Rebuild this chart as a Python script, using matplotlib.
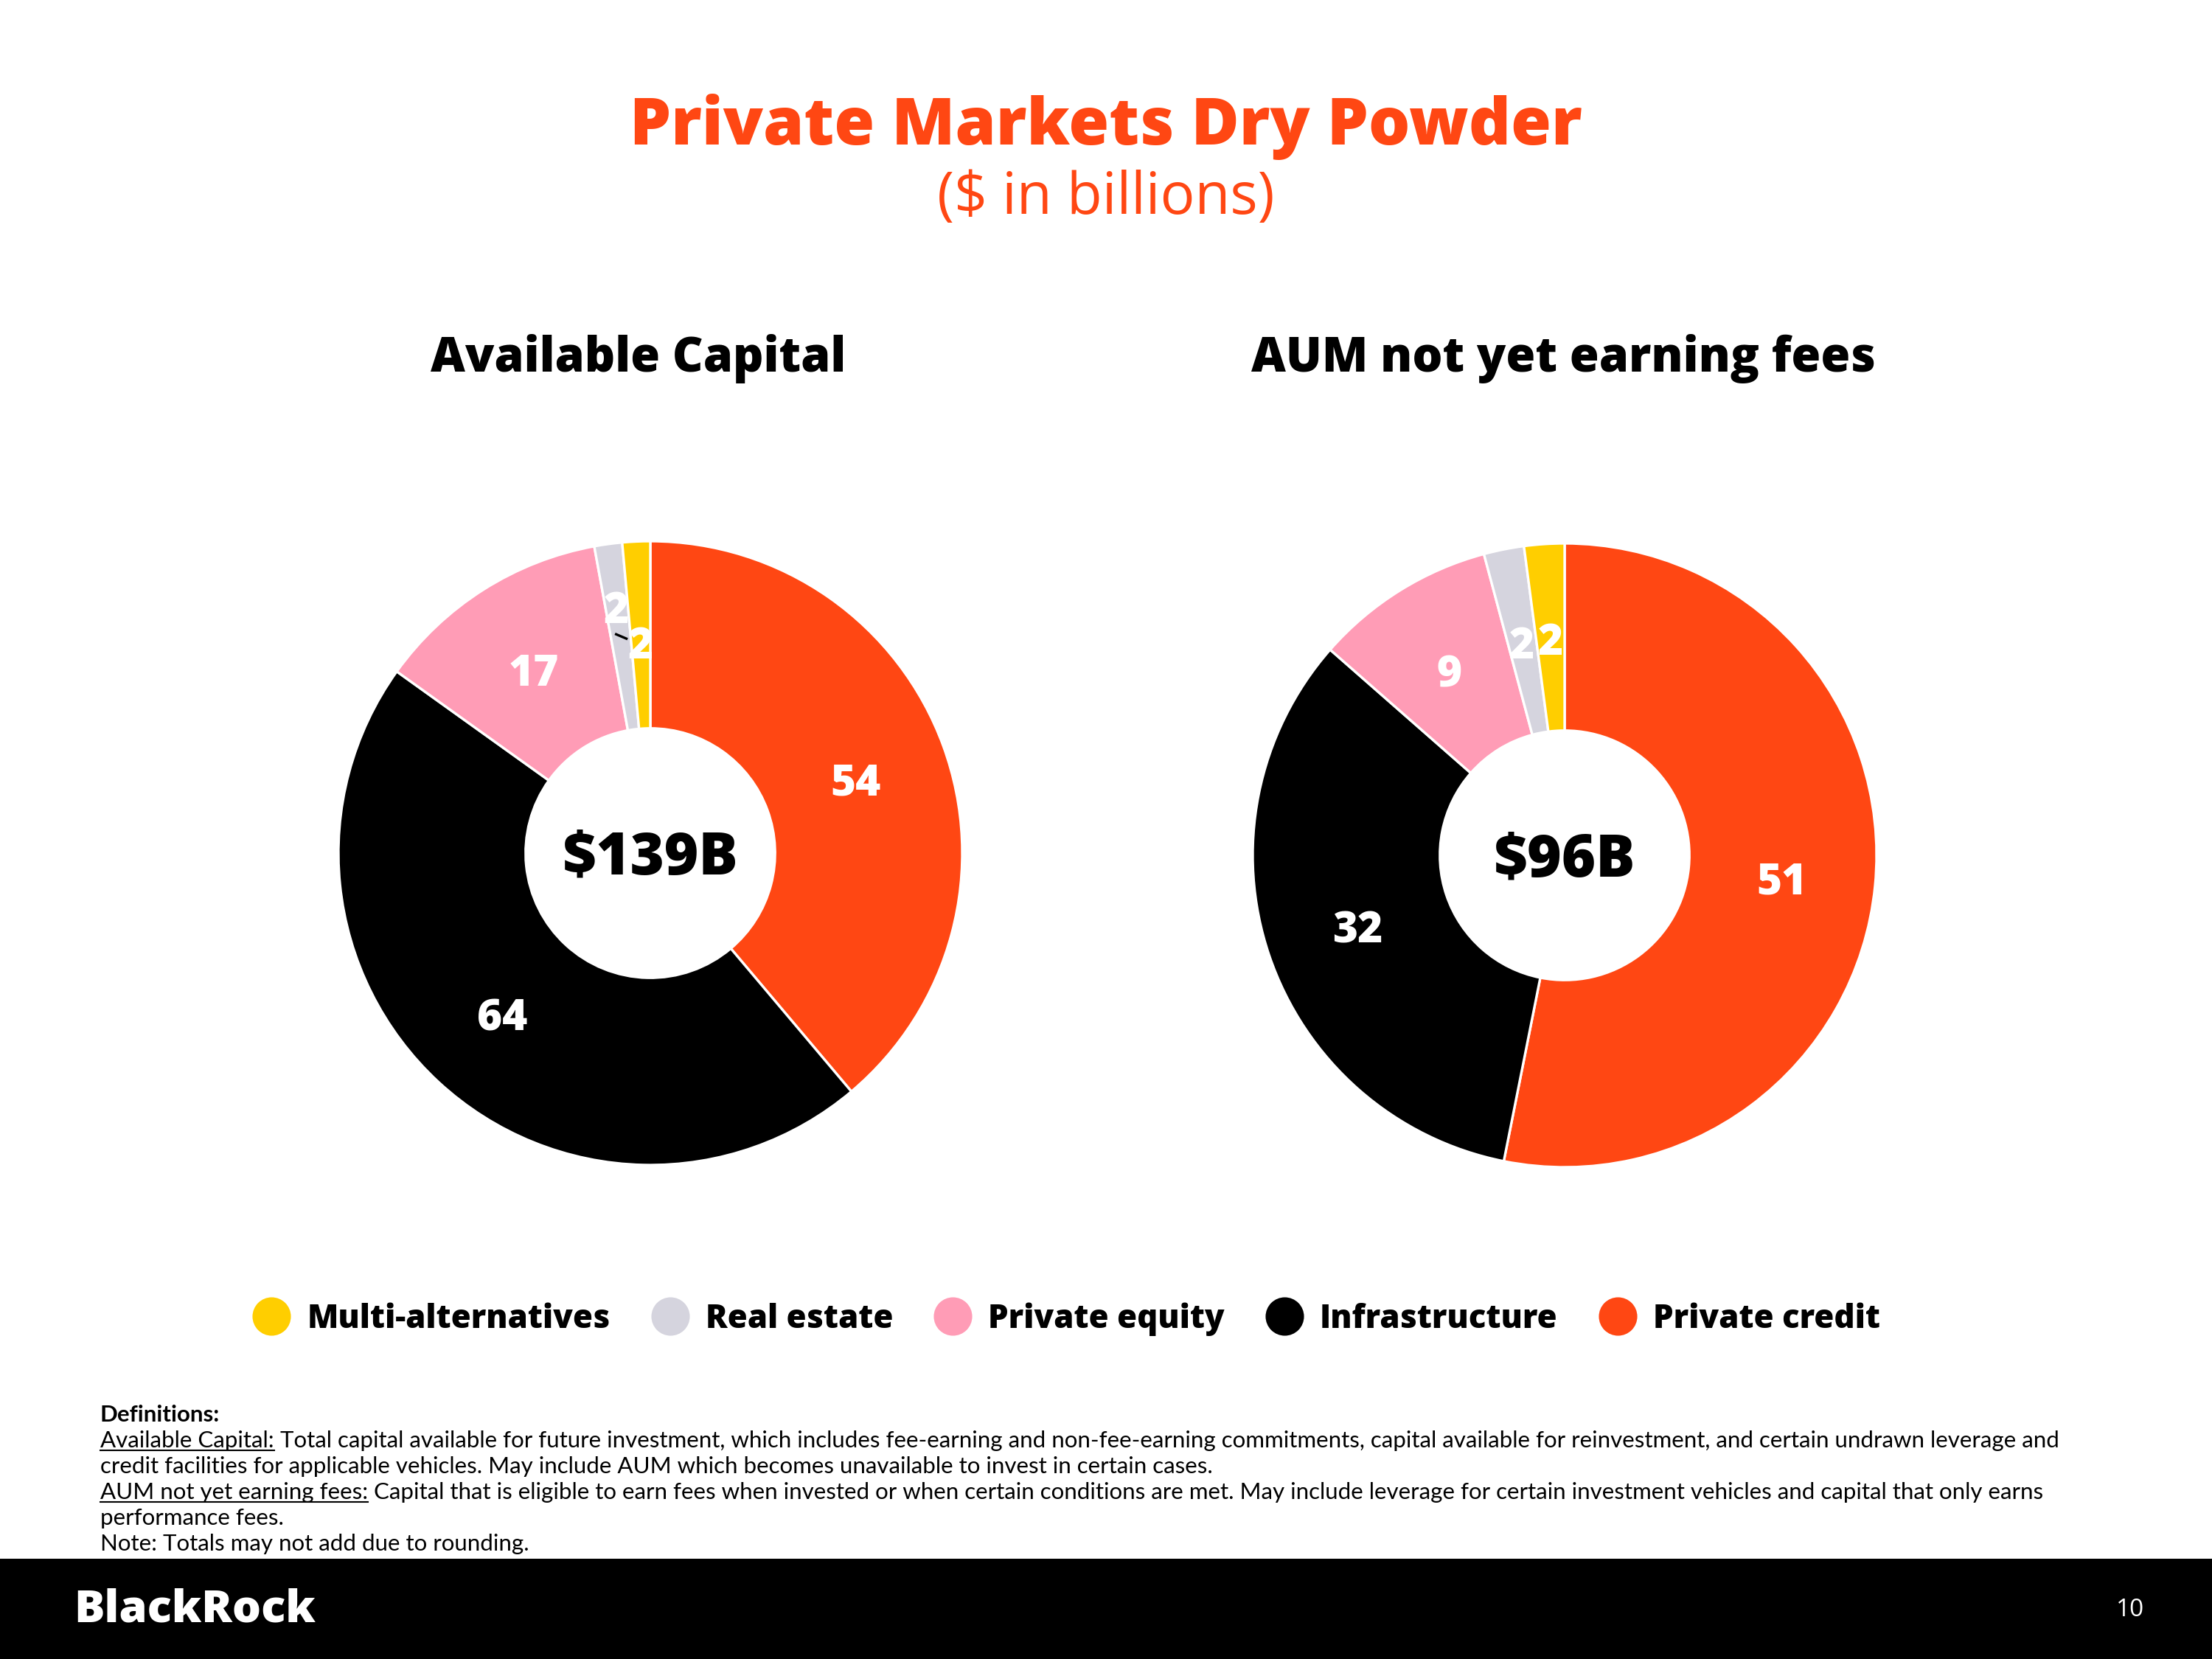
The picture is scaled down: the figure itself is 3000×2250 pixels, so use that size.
import matplotlib

matplotlib.use("Agg")
import matplotlib.pyplot as plt
import numpy as np
from matplotlib.lines import Line2D
from matplotlib.patches import Rectangle

plt.rcParams["font.family"] = ["Open Sans", "DejaVu Sans"]

# ---------------------------------------------------------------------------
# data
# ---------------------------------------------------------------------------
categories = ["Private credit", "Infrastructure", "Private equity",
              "Real estate", "Multi-alternatives"]
legend_order = ["Multi-alternatives", "Real estate", "Private equity",
                "Infrastructure", "Private credit"]
available_capital = [54, 64, 17, 2, 2]
aum_not_earning = [51, 32, 9, 2, 2]
totals = ["$139B", "$96B"]
panel_titles = ["Available Capital", "AUM not yet earning fees"]

colors = {
    "Private credit": "#FF4713",
    "Infrastructure": "#000000",
    "Private equity": "#FF9CB6",
    "Real estate": "#D5D4DE",
    "Multi-alternatives": "#FFCE00",
}
ORANGE = "#FF4713"
HEAVY = 800

W, H = 3000, 2250
fig = plt.figure(figsize=(20, 15), dpi=150)


def fx(px):
    return px / W


def fy(py):
    return 1 - py / H


# -- titles ------------------------------------------------------------------
fig.text(0.5, fy(172), "Private Markets Dry Powder", ha="center", va="center",
         fontsize=42.7, fontweight=HEAVY, color=ORANGE)
fig.text(0.5, fy(270), "($ in billions)", ha="center", va="center",
         fontsize=37.5, color=ORANGE)


# -- donuts ------------------------------------------------------------------
def donut(cx, cy, values, total, title, title_x, label_r):
    R = 423
    half = R * 1.05
    ax = fig.add_axes([fx(cx - half), fy(cy + half), 2 * half / W, 2 * half / H])
    wedges, _ = ax.pie(
        values,
        colors=[colors[c] for c in categories],
        startangle=90,
        counterclock=False,
        radius=1,
        wedgeprops=dict(width=0.6, edgecolor="white", linewidth=1.6),
    )
    ax.set_xlim(-1.05, 1.05)
    ax.set_ylim(-1.05, 1.05)
    ax.set_aspect("equal")
    ax.axis("off")

    dy = -0.018  # nudge text so glyphs sit optically centred
    for w, v, r in zip(wedges, values, label_r):
        ang = np.deg2rad((w.theta1 + w.theta2) / 2)
        ax.text(r * np.cos(ang), r * np.sin(ang) + dy, f"{v}", ha="center",
                va="center", fontsize=28, fontweight=HEAVY, color="white")
    ax.text(0, dy, total, ha="center", va="center", fontsize=38,
            fontweight=HEAVY, color="black")
    fig.text(fx(title_x), fy(486), title, ha="center", va="center", fontsize=31,
             fontweight=HEAVY, color="black")
    return ax, wedges


ax_l, wl = donut(882, 1157, available_capital, totals[0], panel_titles[0], 866,
                 [0.70, 0.70, 0.70, 0.80, 0.68])
# small leader tick for the crowded real estate label
w = wl[3]
a = np.deg2rad((w.theta1 + w.theta2) / 2)
ax_l.plot([0.70 * np.cos(a) - 0.015, 0.70 * np.cos(a) + 0.018],
          [0.70 * np.sin(a) + 0.008, 0.70 * np.sin(a) - 0.006],
          color="black", lw=1.6)

donut(2122, 1160, aum_not_earning, totals[1], panel_titles[1], 2120,
      [0.70, 0.70, 0.70, 0.70, 0.70])

# -- legend ------------------------------------------------------------------
handles = [Line2D([], [], marker="o", linestyle="none", markersize=24,
                  markerfacecolor=colors[c], markeredgecolor=colors[c])
           for c in legend_order]
fig.legend(handles, legend_order, loc="center",
           bbox_to_anchor=(fx(1448), fy(1789)),
           ncol=5, frameon=False, handlelength=1.0, handletextpad=0.6,
           columnspacing=1.35, prop=dict(size=21, weight=HEAVY))

# -- definitions -------------------------------------------------------------
fig.canvas.draw()
renderer = fig.canvas.get_renderer()
x0 = fx(136)
line_h = 35
y_first = 1919
def_size = 15.0
def_font = ["Lato", "DejaVu Sans"]

fig.text(x0, fy(y_first), "Definitions:", fontsize=def_size, fontweight="bold",
         va="center", family=def_font)

lines = [
    ("Available Capital:", " Total capital available for future investment, which includes "
     "fee-earning and non-fee-earning commitments, capital available for reinvestment, "
     "and certain undrawn leverage and"),
    (None, "credit facilities for applicable vehicles. May include AUM which becomes "
     "unavailable to invest in certain cases."),
    ("AUM not yet earning fees:", " Capital that is eligible to earn fees when invested or "
     "when certain conditions are met. May include leverage for certain investment "
     "vehicles and capital that only earns"),
    (None, "performance fees."),
    (None, "Note: Totals may not add due to rounding."),
]
for i, (head, body) in enumerate(lines):
    y = fy(y_first + line_h * (i + 1))
    xs = x0
    if head:
        t = fig.text(xs, y, head, fontsize=def_size, va="center", family=def_font)
        bb = t.get_window_extent(renderer)
        xs = bb.x1 / W
        ul = fy(y_first + line_h * (i + 1) + 13)
        fig.add_artist(Line2D([bb.x0 / W, bb.x1 / W], [ul, ul], color="black",
                              lw=1.0, transform=fig.transFigure))
    fig.text(xs, y, body, fontsize=def_size, va="center", family=def_font)

# -- footer ------------------------------------------------------------------
fig.add_artist(Rectangle((0, 0), 1, fy(2114), transform=fig.transFigure,
                         facecolor="black", edgecolor="none"))
fig.text(fx(100), fy(2183), "BlackRock", fontsize=29.5, fontweight=HEAVY,
         color="white", va="center", ha="left")
fig.text(fx(2908), fy(2183), "10", fontsize=16, color="white", va="center",
         ha="right")

fig.savefig("out.png", dpi=150, facecolor="white")
